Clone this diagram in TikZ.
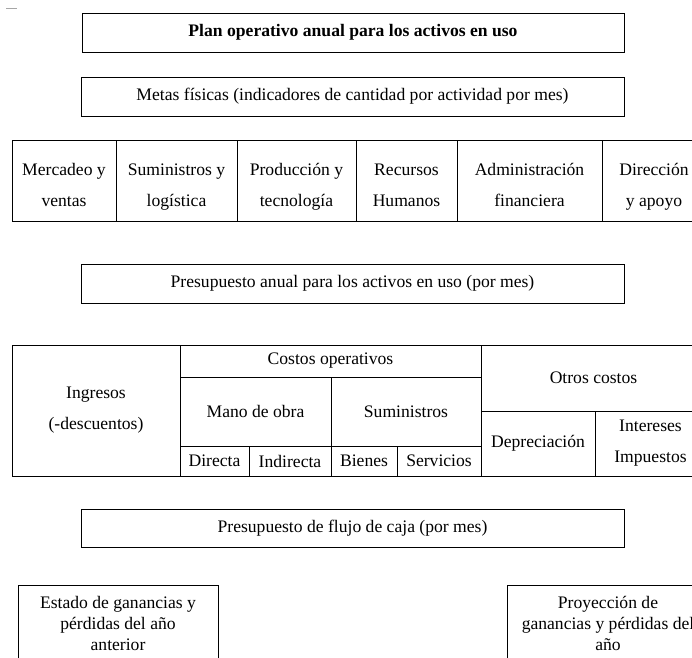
\documentclass[tikz,border=0pt]{standalone}
\usepackage{fontspec}
\setmainfont{Liberation Serif}
\begin{document}
\begin{tikzpicture}[x=0.75pt,y=-0.75pt,
    caja/.style 2 args={draw, line width=0.6pt, anchor=north west, outer sep=0pt,
      inner sep=1pt, align=center, minimum width=#1*0.75pt, minimum height=#2*0.75pt,
      font=\fontsize{13.2}{16}\selectfont},
    celda/.style 2 args={caja={#1}{#2}, font=\fontsize{13.2}{23.25}\selectfont},
    area/.style={celda={#1}{81}, text height=41.5pt, text depth=3pt}]
  \useasboundingbox (0,0) rectangle (692,657);
  \clip (0,0) rectangle (692,657);
  \draw[gray!70] (6,8) -- (17,8);
  % titulos
  \node[caja={542}{39}, font=\fontsize{13.2}{16}\selectfont\bfseries] (plan) at (82,13) {Plan operativo anual para los activos en uso};
  \node[caja={543}{39}] (metas) at (81,77) {Metas físicas (indicadores de cantidad por actividad por mes)};
  % areas
  \node[area=104] (mercadeo) at (12,140) {Mercadeo y\\ventas};
  \node[area=121] (suministros) at (116,140) {Suministros y\\logística};
  \node[area=119] (produccion) at (237,140) {Producción y\\tecnología};
  \node[area=101] (recursos) at (356,140) {Recursos\\Humanos};
  \node[area=145] (administracion) at (457,140) {Administración\\financiera};
  \node[area=104] (direccion) at (602,140) {Dirección\\y apoyo};
  \node[caja={543}{39}] (presupuesto) at (81,264) {Presupuesto anual para los activos en uso (por mes)};
  % presupuesto
  \begin{scope}
    \node[celda={168}{131}] (ingresos) at (12,345) {Ingresos\\(-descuentos)};
    \node[celda={301}{32}] (costos) at (180,345) {Costos operativos};
    \node[celda={151}{69}] (mano) at (180,377) {Mano de obra};
    \node[celda={150}{69}] (insumos) at (331,377) {Suministros};
    \node[celda={69}{30}] (directa) at (180,446) {Directa};
    \node[celda={82}{30}] (indirecta) at (249,446) {Indirecta};
    \node[celda={66}{30}] (bienes) at (331,446) {Bienes};
    \node[celda={84}{30}] (servicios) at (397,446) {Servicios};
    \node[celda={225}{66}] (otros) at (481,345) {Otros costos};
    \node[celda={114}{65}] (depreciacion) at (481,411) {Depreciación};
    \node[celda={111}{65}] (intereses) at (595,411) {Intereses\\Impuestos};
  \end{scope}
  \node[caja={543}{38}] (flujo) at (81,509) {Presupuesto de flujo de caja (por mes)};
  % resultados
  \node[caja={200}{77}] (estado) at (18,585) {Estado de ganancias y\\pérdidas del año\\anterior};
  \node[caja={202}{77}] (proyeccion) at (507,585) {Proyección de\\ganancias y pérdidas del\\año};
\end{tikzpicture}
\end{document}
